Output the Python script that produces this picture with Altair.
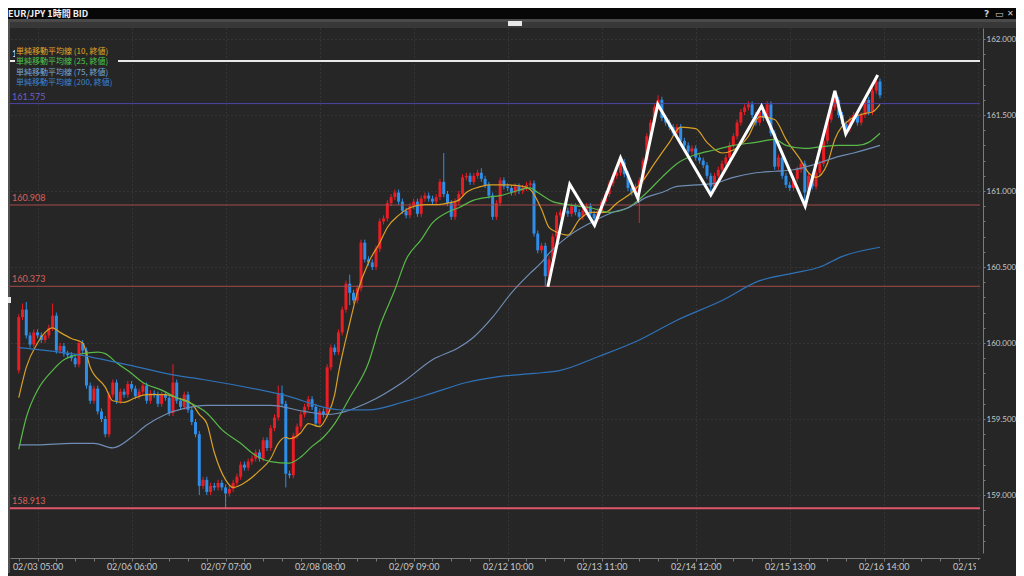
import json
import altair as alt
import pandas as pd

TITLE = "EUR/JPY 1時間 BID"

# x axis: bar index, labelled every 25 bars, minor ticks every 5 bars
X_LABELS = ["02/03 05:00", "02/06 06:00", "02/07 07:00", "02/08 08:00", "02/09 09:00",
            "02/12 10:00", "02/13 11:00", "02/14 12:00", "02/15 13:00", "02/16 14:00",
            "02/19 15:00"]
X_FIRST_LABEL_BAR = 6
X_LABEL_STEP = 25
X_TICK_BARS = list(range(1, 257, 5))
Y_TICKS = [round(158.7 + 0.1 * i, 1) for i in range(34)]

# candles (bar 1..230): first open, then closes
FIRST_OPEN = 159.82
CLOSES = [
    160.17, 160.22, 160.05, 159.99, 160.07, 160.05, 160.02, 160.05, 160.10, 160.18,
    159.95, 159.98, 159.93, 159.92, 159.90, 159.86, 160.00, 159.95, 159.72, 159.62,
    159.70, 159.55, 159.50, 159.40, 159.66, 159.74, 159.62, 159.68, 159.66, 159.73,
    159.70, 159.65, 159.68, 159.72, 159.62, 159.67, 159.66, 159.60, 159.66, 159.64,
    159.54, 159.74, 159.62, 159.58, 159.66, 159.56, 159.48, 159.40, 159.06, 159.10,
    159.02, 159.06, 159.05, 159.08, 159.05, 159.01, 159.04, 159.08, 159.12, 159.20,
    159.18, 159.22, 159.24, 159.28, 159.24, 159.36, 159.31, 159.44, 159.51, 159.67,
    159.60, 159.14, 159.13, 159.39, 159.45, 159.53, 159.58, 159.63, 159.58, 159.47,
    159.55, 159.53, 159.84, 159.97, 159.94, 160.07, 160.22, 160.39, 160.33, 160.28,
    160.36, 160.66, 160.55, 160.53, 160.50, 160.62, 160.80, 160.82, 160.92, 160.96,
    160.99, 160.93, 160.87, 160.84, 160.90, 160.93, 160.85, 160.95, 160.97, 160.95,
    160.93, 160.96, 161.06, 160.98, 160.92, 160.83, 160.93, 160.98, 161.09, 161.10,
    161.06, 161.10, 161.12, 161.08, 161.04, 160.97, 160.83, 160.92, 161.07, 161.03,
    161.02, 160.99, 161.03, 161.00, 161.02, 161.04, 161.05, 160.72, 160.61, 160.64,
    160.44, 160.55, 160.70, 160.84, 160.86, 160.87, 160.85, 160.90, 160.86, 160.83,
    160.87, 160.90, 160.85, 160.82, 160.87, 160.93, 160.98, 161.05, 161.10, 161.12,
    161.19, 161.11, 161.02, 160.99, 161.03, 161.07, 161.20, 161.36, 161.45, 161.55,
    161.60, 161.48, 161.45, 161.42, 161.38, 161.42, 161.33, 161.30, 161.26, 161.28,
    161.22, 161.20, 161.17, 161.10, 161.03, 161.10, 161.14, 161.18, 161.22, 161.30,
    161.36, 161.45, 161.52, 161.55, 161.57, 161.50, 161.45, 161.52, 161.48, 161.57,
    161.38, 161.16, 161.22, 161.10, 161.04, 161.02, 161.08, 161.14, 161.18, 160.99,
    161.10, 161.03, 161.12, 161.18, 161.33, 161.47, 161.55, 161.60, 161.50, 161.44,
    161.41, 161.47, 161.50, 161.45, 161.50, 161.60, 161.52, 161.66, 161.72, 161.63,
]
# long wicks (bar -> price)
HIGHS = {2: 160.26, 3: 160.27, 10: 160.26, 42: 159.86, 70: 159.72, 71: 159.72,
         89: 160.45, 114: 161.25, 124: 161.15, 171: 161.63, 200: 161.59,
         218: 161.66, 229: 161.76}
LOWS = {49: 159.00, 56: 158.913, 72: 159.05, 89: 160.25, 141: 160.373,
        166: 160.79, 185: 160.97, 210: 160.908}
WICK = 0.02

# simple moving averages (bar, price)
SMA10_BARS = [1, 3, 6, 8, 10, 12, 15, 18, 20, 24, 26, 29, 32, 35, 40, 43, 47, 49, 51, 53,
              56, 58, 61, 65, 68, 70, 72, 73, 76, 78, 81, 83, 85, 86, 89, 91, 94, 97, 99,
              102, 105, 109, 112, 115, 118, 120, 124, 126, 131, 135, 137, 140, 142, 144,
              147, 150, 153, 157, 160, 164, 167, 170, 174, 177, 181, 184, 188, 191, 195,
              198, 202, 205, 209, 211, 213, 216, 218, 222, 226, 228, 230]
SMA10_VALS = [159.64, 159.84, 160.00, 160.07, 160.10, 160.07, 160.03, 160.00, 159.84, 159.71,
              159.62, 159.61, 159.64, 159.66, 159.66, 159.64, 159.60, 159.53, 159.47, 159.28,
              159.10, 159.05, 159.08, 159.16, 159.24, 159.34, 159.38, 159.37, 159.41, 159.47,
              159.45, 159.52, 159.66, 159.80, 160.13, 160.33, 160.53, 160.66, 160.76,
              160.84, 160.89, 160.91, 160.91, 160.92, 160.94, 160.99, 161.03, 161.04,
              161.04, 161.03, 161.01, 160.88, 160.76, 160.73, 160.71, 160.81, 160.86,
              160.86, 160.92, 160.99, 161.07, 161.18, 161.32, 161.42, 161.41, 161.32,
              161.25, 161.27, 161.36, 161.49, 161.47, 161.34, 161.20, 161.12, 161.09,
              161.18, 161.34, 161.47, 161.51, 161.52, 161.57]
SMA25_BARS = [1, 3, 6, 10, 13, 18, 22, 24, 27, 31, 34, 39, 43, 47, 51, 55, 60, 64, 68, 73,
              76, 79, 82, 85, 89, 94, 97, 101, 104, 108, 111, 115, 118, 122, 126, 129, 132,
              137, 139, 143, 147, 153, 158, 163, 168, 172, 176, 181, 186, 191, 197, 202,
              205, 210, 214, 219, 224, 227, 230]
SMA25_VALS = [159.30, 159.51, 159.69, 159.82, 159.89, 159.93, 159.94, 159.93, 159.87, 159.80,
              159.74, 159.69, 159.64, 159.60, 159.54, 159.43, 159.34, 159.26, 159.22, 159.21,
              159.25, 159.32, 159.38, 159.47, 159.64, 159.87, 160.11, 160.35, 160.55, 160.68,
              160.79, 160.86, 160.89, 160.94, 160.96, 160.97, 160.99, 161.02, 160.99, 160.93,
              160.91, 160.89, 160.86, 160.89, 160.99, 161.09, 161.18, 161.24, 161.27, 161.30,
              161.32, 161.34, 161.30, 161.28, 161.29, 161.30, 161.30, 161.32, 161.38]
SMA75_BARS = [1, 6, 15, 21, 26, 31, 35, 40, 45, 51, 68, 77, 83, 94, 103, 111, 118, 122, 127,
              132, 137, 140, 142, 147, 153, 159, 163, 168, 172, 176, 181, 186, 191, 197, 202,
              207, 212, 218, 223, 230]
SMA75_VALS = [159.33, 159.33, 159.34, 159.34, 159.31, 159.38, 159.46, 159.53, 159.57, 159.59,
              159.59, 159.55, 159.53, 159.61, 159.74, 159.89, 159.97, 160.04, 160.17, 160.33,
              160.46, 160.53, 160.59, 160.70, 160.79, 160.86, 160.89, 160.96, 160.99, 161.03,
              161.04, 161.05, 161.09, 161.12, 161.13, 161.14, 161.17, 161.22, 161.25, 161.30]
SMA200_BARS = [1, 15, 33, 42, 50, 71, 87, 94, 103, 111, 120, 129, 138, 145, 155, 166, 176,
               188, 198, 207, 214, 220, 230]
SMA200_VALS = [159.97, 159.93, 159.84, 159.79, 159.76, 159.66, 159.56, 159.56, 159.61, 159.67,
               159.74, 159.78, 159.80, 159.82, 159.91, 160.02, 160.15, 160.28, 160.41, 160.46,
               160.50, 160.57, 160.63]
MA_NAMES = ["単純移動平均線 (10, 終値)", "単純移動平均線 (25, 終値)",
            "単純移動平均線 (75, 終値)", "単純移動平均線 (200, 終値)"]
MA_COLORS = ["#d9a025", "#58b948", "#6f8db4", "#2f72b8"]
MA_TEXT_COLORS = ["#e0a82a", "#4cc64c", "#78a6d8", "#3a84d4"]

# hand-drawn zigzag (bar, price)
ZZ_BARS = [141.7, 147.5, 154.1, 161.0, 165.6, 170.9, 185.0, 198.5, 210.1, 218.0, 220.9, 229.4]
ZZ_PRICES = [160.370, 161.044, 160.774, 161.219, 160.952, 161.570, 160.974, 161.559,
             160.901, 161.658, 161.375, 161.763]

# horizontal price levels (the first label is hidden behind the legend box but its "1")
LEVELS = [161.855, 161.575, 160.908, 160.373, 158.913]
LEVEL_LABELS = ["1", "161.575", "160.908", "160.373", "158.913"]
LEVEL_LINE_COLORS = ["#e8e8e8", "#4e46a8", "#a84a4a", "#a84a4a", "#e0566a"]
LEVEL_TEXT_COLORS = ["#e8e8e8", "#6a5fd0", "#d8605c", "#d8605c", "#d8605c"]
LEVEL_WIDTHS = [2, 1, 1, 1, 2]

BG = "#262626"
UP, DOWN = "#ea1d25", "#2e8ee8"

# ---------------------------------------------------------------- data frames
rows = []
prev = FIRST_OPEN
for i, c in enumerate(CLOSES):
    k = i + 1
    o = prev
    hi = HIGHS.get(k, max(o, c) + WICK)
    lo = LOWS.get(k, min(o, c) - WICK)
    rows.append({"k": k, "open": o, "close": c, "high": hi, "low": lo,
                 "col": UP if c >= o else DOWN})
    prev = c
candles = pd.DataFrame(rows)

ma_rows = []
for name, col, bars, vals in zip(MA_NAMES, MA_COLORS,
                                 [SMA10_BARS, SMA25_BARS, SMA75_BARS, SMA200_BARS],
                                 [SMA10_VALS, SMA25_VALS, SMA75_VALS, SMA200_VALS]):
    for b, v in zip(bars, vals):
        ma_rows.append({"k": b, "v": v, "name": name, "col": col})
mas = pd.DataFrame(ma_rows)

zz = pd.DataFrame({"k": ZZ_BARS, "v": ZZ_PRICES, "o": list(range(len(ZZ_BARS)))})
levels = pd.DataFrame({"v": LEVELS, "lc": LEVEL_LINE_COLORS, "tc": LEVEL_TEXT_COLORS,
                       "w": LEVEL_WIDTHS, "t": LEVEL_LABELS})

# ---------------------------------------------------------------- scales / axes
W, H = 970, 525
XS = alt.Scale(domain=[0, 255.26], nice=False, zero=False)
YS = alt.Scale(domain=[158.6185, 162.0724], nice=False, zero=False)

x_major = f"(datum.value - {X_FIRST_LABEL_BAR}) % {X_LABEL_STEP} == 0"
x_label_expr = (f"{x_major} ? {json.dumps(X_LABELS)}"
                f"[(datum.value - {X_FIRST_LABEL_BAR}) / {X_LABEL_STEP}] : ''")
y_major = "abs(datum.value * 2 - round(datum.value * 2)) < 0.01"
y_label_expr = f"{y_major} ? format(datum.value, '.3f') : ''"

X_AXIS = alt.Axis(values=X_TICK_BARS, labelExpr=x_label_expr, orient="bottom", offset=5,
                  domainColor="#7a7a7a", tickColor="#7a7a7a", tickSize=3,
                  labelColor="#c8c8c8", labelFont="Lato", labelFontSize=9, labelPadding=1,
                  labelOverlap=False, labelFlush=False, grid=True, gridColor="#454545",
                  gridDash=[1, 3],
                  gridOpacity={"condition": {"test": x_major, "value": 1}, "value": 0},
                  title=None)
Y_AXIS = alt.Axis(values=Y_TICKS, labelExpr=y_label_expr, orient="right", offset=3,
                  domainColor="#7a7a7a", tickColor="#7a7a7a", tickSize=2,
                  labelColor="#c8c8c8", labelFont="Lato", labelFontSize=8, labelPadding=1,
                  labelOverlap=False, labelFlush=False, grid=True, gridColor="#454545",
                  gridDash=[1, 3],
                  gridOpacity={"condition": {"test": y_major, "value": 1}, "value": 0},
                  title=None)


def X(field):
    return alt.X(field, scale=XS, axis=X_AXIS)


def Y(field):
    return alt.Y(field, scale=YS, axis=Y_AXIS)


# ---------------------------------------------------------------- layers
cb = alt.Chart(candles)
wicks = cb.mark_rule(strokeWidth=1).encode(
    x=X("k:Q"), y=Y("low:Q"), y2="high:Q", color=alt.Color("col:N", scale=None))
bodies = cb.mark_bar(size=3).encode(
    x=X("k:Q"), y=Y("open:Q"), y2="close:Q", color=alt.Color("col:N", scale=None))

lvl = alt.Chart(levels)
level_lines = lvl.mark_rule().encode(
    y=Y("v:Q"),
    color=alt.Color("lc:N", scale=None),
    strokeWidth=alt.StrokeWidth("w:Q", scale=None),
)
level_text = lvl.mark_text(align="left", baseline="bottom", dy=-2, font="Lato",
                           fontSize=9).encode(
    y=Y("v:Q"), x=alt.value(2), text="t:N", color=alt.Color("tc:N", scale=None))

ma_lines = alt.Chart(mas).mark_line(strokeWidth=1.2, interpolate="monotone").encode(
    x=X("k:Q"), y=Y("v:Q"), detail="name:N", color=alt.Color("col:N", scale=None))

zig = alt.Chart(zz).mark_line(color="#ffffff", strokeWidth=3).encode(
    x=X("k:Q"), y=Y("v:Q"), order="o:Q")

dummy = alt.Chart(alt.Data(values=[{"a": 1}]))


def box(x1, x2, y1, y2, color):
    return dummy.mark_rect(color=color).encode(
        x=alt.value(x1), x2=alt.value(x2), y=alt.value(y1), y2=alt.value(y2))


def label(txt, x, y, color, size, weight="normal", font="Noto Sans CJK JP", align="left"):
    return dummy.mark_text(text=txt, color=color, fontSize=size, fontWeight=weight,
                           font=font, align=align, baseline="middle").encode(
        x=alt.value(x), y=alt.value(y))


R = 1006  # right edge of the chart, relative to the plot origin
chrome = [
    box(-2, R, -20, -9, "#070707"),
    box(-2, R, -9, -6, "#4a4a4a"),
    box(-2, R, -6, 0, "#383838"),
    box(498, 512, -7, -2, "#e8e8e8"),
    box(-2, 0, -9, 545, "#505050"),
    box(-2, 1, 269, 275, "#e8e8e8"),
    box(966, R, 532, 545, BG),
    label(TITLE, -2, -14, "#f0f0f0", 9, "bold"),
    label("?", 974, -14, "#d0d0d0", 9, "bold", "DejaVu Sans"),
    label("▭", 985, -14, "#d0d0d0", 9, "bold", "DejaVu Sans"),
    label("✕", 997, -14, "#d0d0d0", 8, "bold", "DejaVu Sans"),
]

legend_layers = [box(5, 108, 18, 60, BG)]
for i, (nm, col) in enumerate(zip(MA_NAMES, MA_TEXT_COLORS)):
    legend_layers.append(label(nm, 6, 24 + 10.4 * i, col, 8))

chart = alt.layer(
    wicks, bodies, level_lines, ma_lines, zig, level_text, *legend_layers, *chrome
).properties(
    width=W, height=H,
    padding={"left": 2, "top": 20, "right": 36, "bottom": 23},
    autosize=alt.AutoSizeParams(type="none"),
    background=BG,
).configure_view(stroke=None)

chart.save("out.html", embed_options={"renderer": "svg", "actions": False})
